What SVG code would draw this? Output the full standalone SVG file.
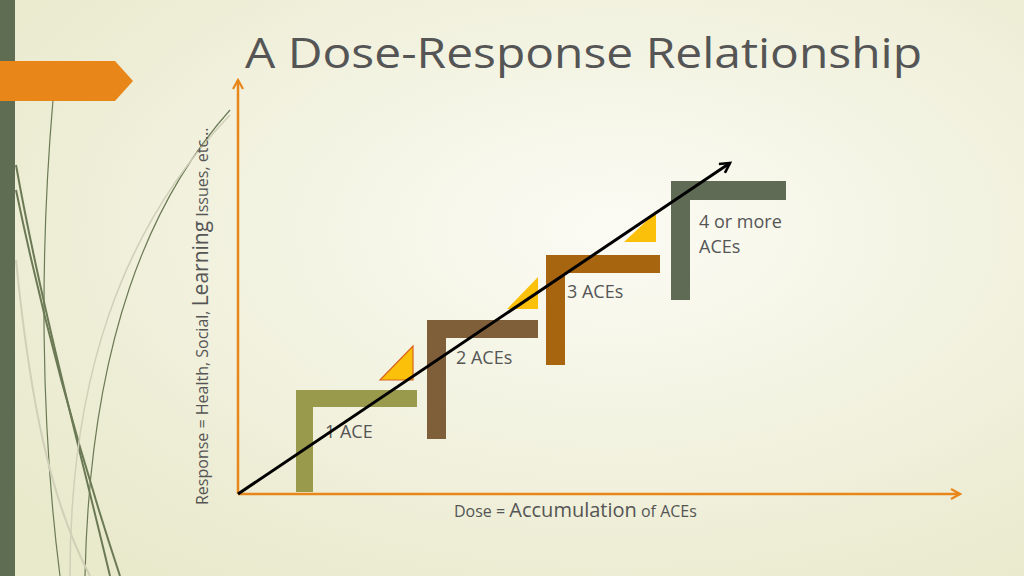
<svg xmlns="http://www.w3.org/2000/svg" width="1024" height="576" viewBox="0 0 1024 576">
<defs>
<radialGradient id="bg" cx="0.6" cy="0.4" r="0.75">
<stop offset="0" stop-color="#fbfbf4"/><stop offset="1" stop-color="#e9e9cc"/>
</radialGradient>
<marker id="oa" viewBox="0 0 12 12" refX="10" refY="6" markerWidth="12" markerHeight="12" markerUnits="userSpaceOnUse" orient="auto"><path d="M1,1 L10,6 L1,11" fill="none" stroke="#e8861a" stroke-width="2.2"/></marker>
<marker id="ba" viewBox="0 0 12 12" refX="10" refY="6" markerWidth="13" markerHeight="13" markerUnits="userSpaceOnUse" orient="auto"><path d="M1,1 L10,6 L1,11" fill="none" stroke="#000" stroke-width="2.4"/></marker>
</defs>
<style>
text{font-family:"Open Sans","DejaVu Sans",sans-serif;fill:#555}
.lbl{font-size:18px}
.tri{fill:#fbc00a}
</style>
<rect width="1024" height="576" fill="url(#bg)"/>
<g fill="none">
<path d="M16,165 C40,300 80,450 110,576" stroke="#6b7a55" stroke-width="2"/>
<path d="M16,190 C45,330 85,470 120,576" stroke="#6b7a55" stroke-width="2"/>
<path d="M53,100 C40,250 40,420 60,576" stroke="#6b7a55" stroke-width="1.2"/>
<path d="M230,110 C150,200 90,340 85,576" stroke="#6b7a55" stroke-width="1.2"/>
<path d="M230,115 C120,230 70,380 70,576" stroke="#d0d0b8" stroke-width="1.5"/>
<path d="M16,260 C30,400 50,500 90,576" stroke="#d0d0b8" stroke-width="2"/>
</g>
<rect x="0" y="0" width="15" height="576" fill="#5f6e52"/>
<path d="M0,61 L115,61 L133,81 L115,101 L0,101 Z" fill="#e8861a"/>
<text x="245" y="68" font-size="42" textLength="677" lengthAdjust="spacingAndGlyphs">A Dose-Response Relationship</text>
<g id="axes">
<line x1="238" y1="494" x2="238" y2="80" stroke="#e8861a" stroke-width="2.5" marker-end="url(#oa)"/>
<line x1="238" y1="494" x2="960" y2="494" stroke="#e8861a" stroke-width="2.5" marker-end="url(#oa)"/>
</g>
<g id="step1"><path d="M296,390 H417 V407 H313 V492 H296 Z" fill="#9a9a4c"/><text class="lbl" x="325" y="438">1 ACE</text></g>
<g id="step2"><path d="M427,320 H538 V338 H446 V439 H427 Z" fill="#7f5f3a"/><text class="lbl" x="456" y="364">2 ACEs</text></g>
<g id="step3"><path d="M546,255 H660 V273 H565 V365 H546 Z" fill="#a8650f"/><text class="lbl" x="567" y="298">3 ACEs</text></g>
<g id="step4"><path d="M671,181 H786 V200 H690 V300 H671 Z" fill="#5f6b55"/><text class="lbl" x="699" y="228">4 or more</text><text class="lbl" x="699" y="253">ACEs</text></g>
<g id="triangles">
<path class="tri" d="M380,380 L413,380 L413,346 Z" stroke="#d9641a" stroke-width="1.2"/>
<path class="tri" d="M507,309 L538,309 L538,277 Z"/>
<path class="tri" d="M624,242 L656,242 L656,212 Z"/>
</g>
<g id="connectors">
<line x1="238" y1="494" x2="730" y2="163" stroke="#000" stroke-width="3" marker-end="url(#ba)"/>
</g>
<text transform="translate(208,505) rotate(-90)" font-size="16">Response = Health, Social, <tspan font-size="21">Learning</tspan> Issues, etc…</text>
<text x="454" y="517" font-size="16">Dose = <tspan font-size="20">Accumulation</tspan> of ACEs</text>
</svg>
